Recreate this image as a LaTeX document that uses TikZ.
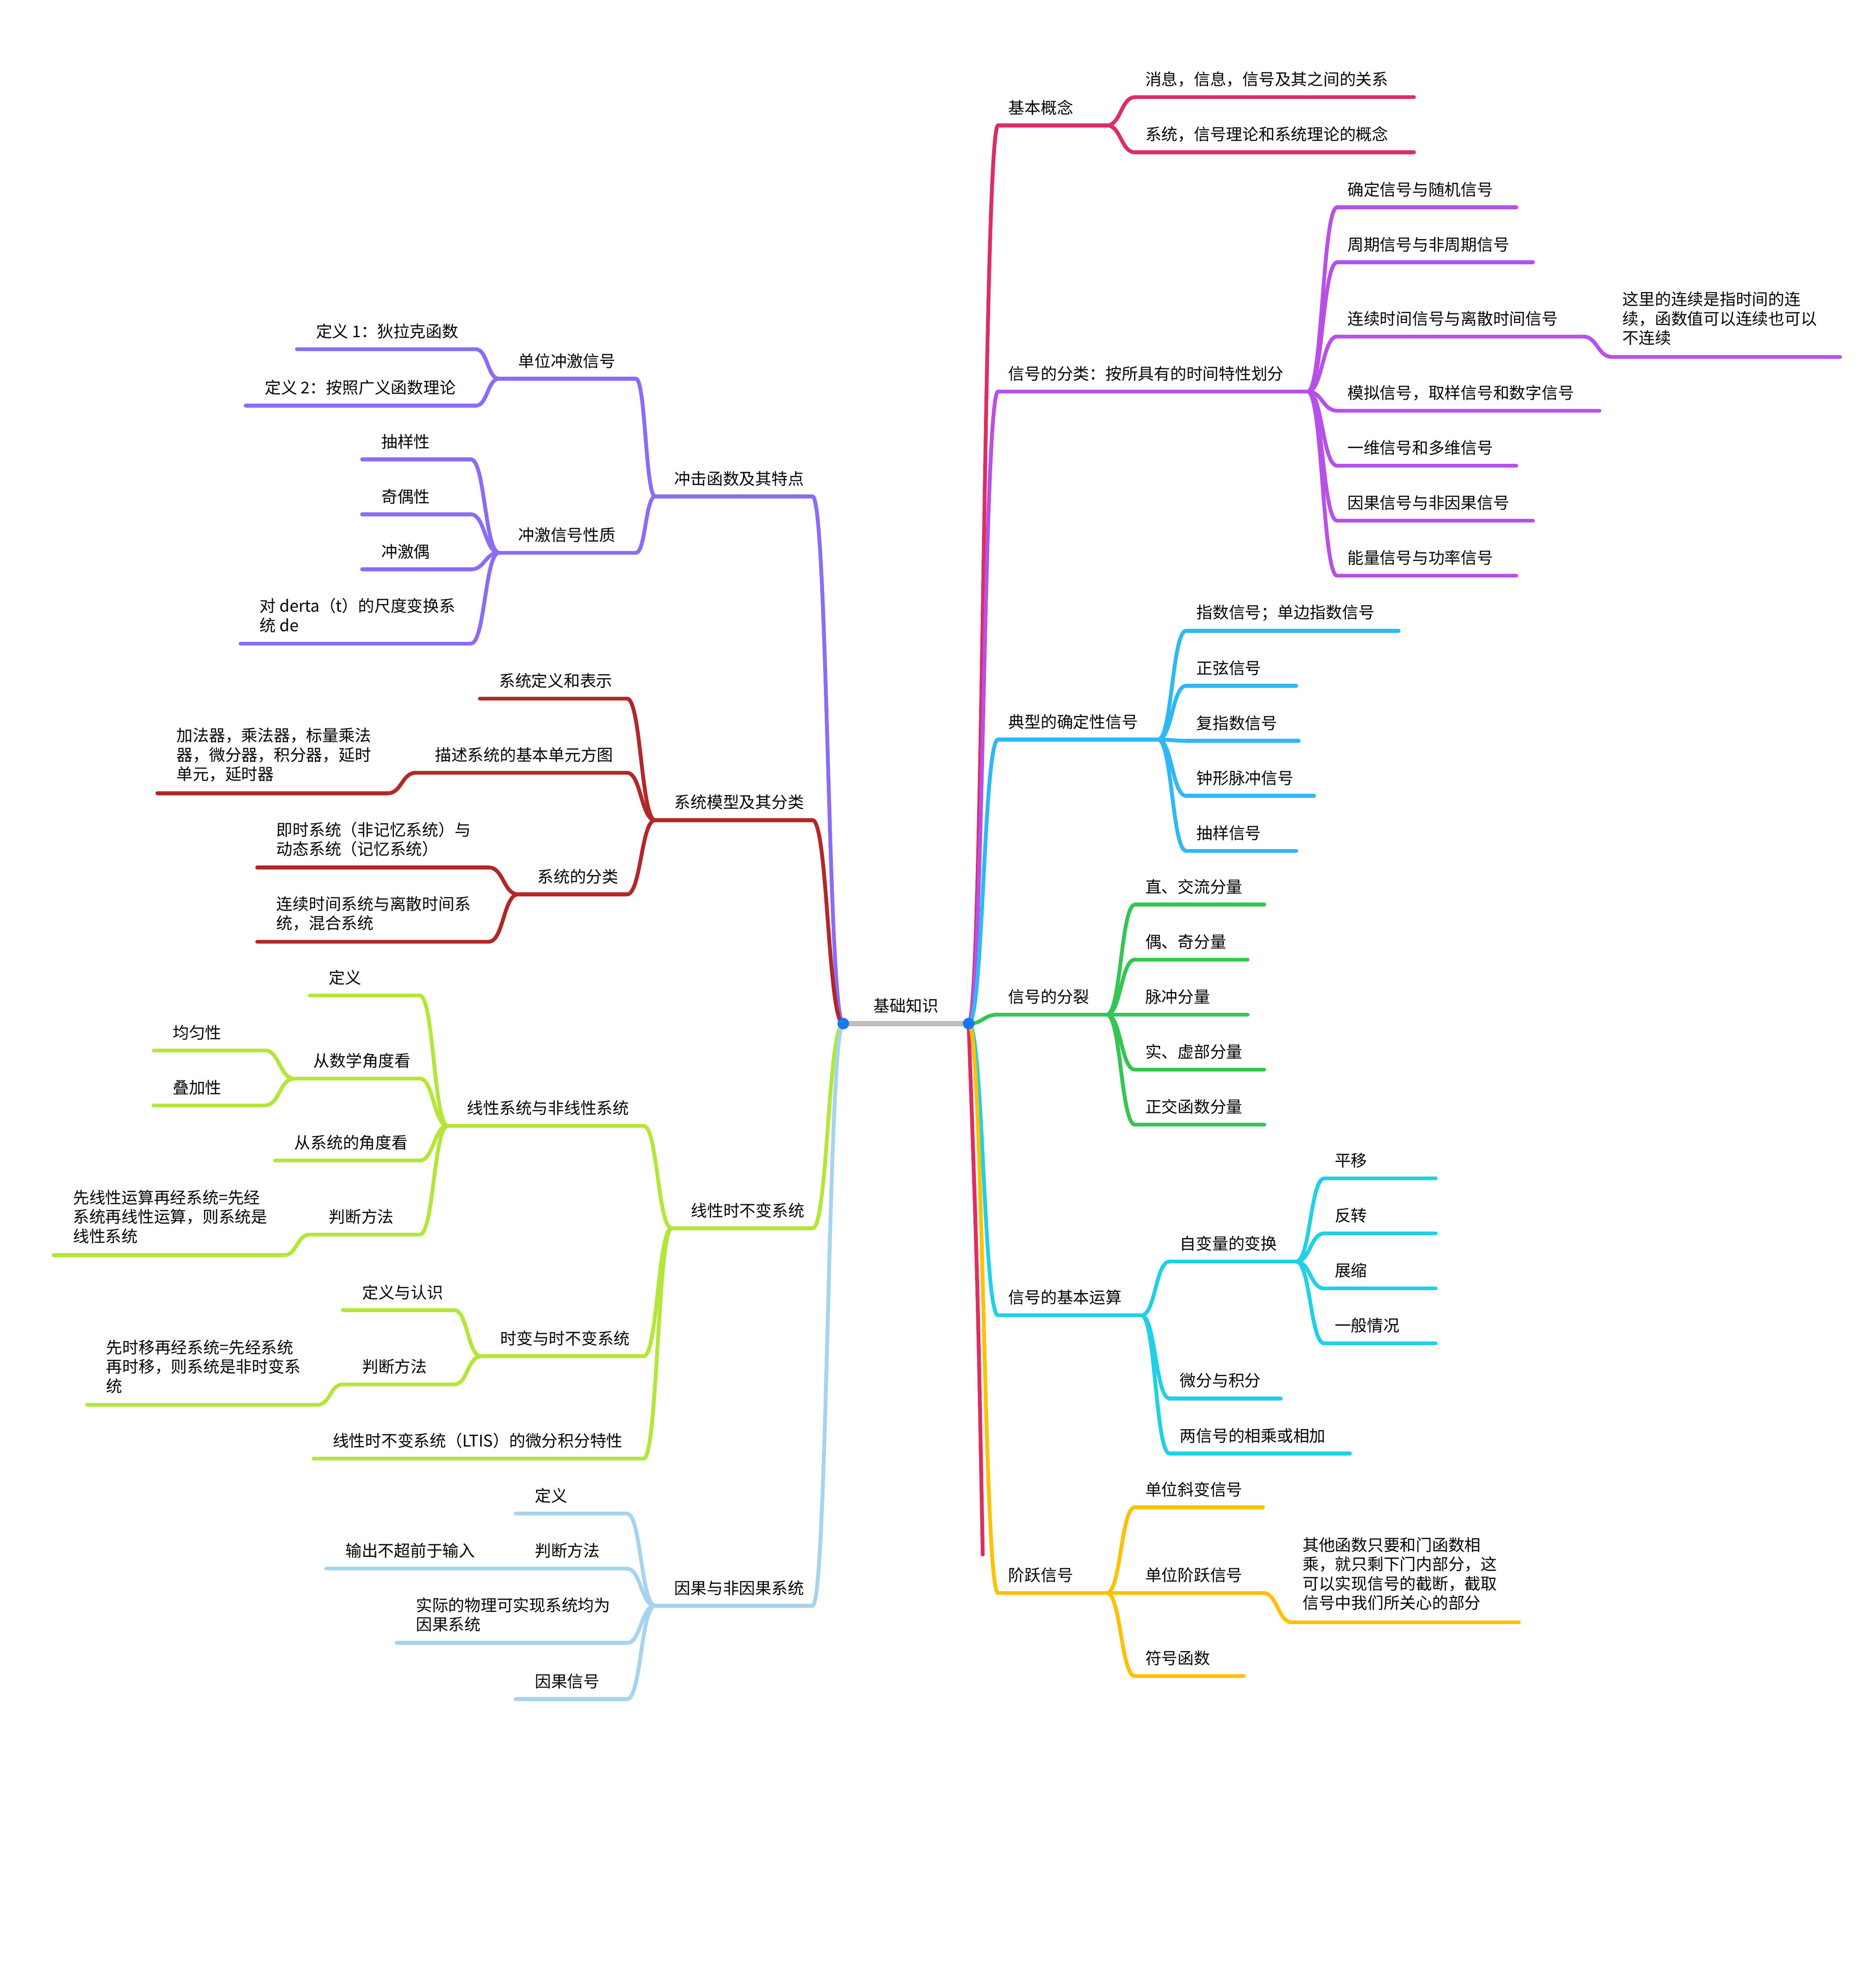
\documentclass[tikz,border=0pt]{standalone}
\usepackage{fontspec}
\setmainfont{Noto Sans CJK SC}
\usetikzlibrary{calc}
\definecolor{ccrim}{HTML}{DB2E62}
\definecolor{cpur}{HTML}{B850E8}
\definecolor{csky}{HTML}{2EB8F5}
\definecolor{cgrn}{HTML}{36C555}
\definecolor{ccyan}{HTML}{22D0E5}
\definecolor{camb}{HTML}{FFC107}
\definecolor{cvio}{HTML}{8A6CF5}
\definecolor{cred}{HTML}{B22828}
\definecolor{cyg}{HTML}{B4E63A}
\definecolor{clb}{HTML}{A6D3EE}
\definecolor{cgray}{HTML}{BDBDBD}
\definecolor{cdot}{HTML}{1877F2}
\tikzset{
  br/.style={line width=3mm, line cap=round},
  txt/.style={anchor=west, inner sep=0pt, align=left, font=\fontsize{36}{43}\selectfont}
}
\newcommand{\ndR}[7]{%
  \coordinate (#1-s) at (#3,#5); \coordinate (#1-e) at (#4,#5);
  \draw[br,#2] (#1-s) -- (#1-e);
  \node[txt] (#1) at (#3+8,#6) {#7};}
\newcommand{\ndL}[7]{%
  \coordinate (#1-s) at (#3,#5); \coordinate (#1-e) at (#4,#5);
  \draw[br,#2] (#1-s) -- (#1-e);
  \node[txt] (#1) at (#3+15,#6) {#7};}
\newcommand{\cn}[3]{%
  \draw[br,#1] (#2) .. controls ($(#2)!0.5!(#2-|#3)$) and ($(#3)!0.5!(#3-|#2)$) .. (#3);}
\begin{document}
\begin{tikzpicture}[x=1mm,y=-1mm]
\useasboundingbox (0,0) rectangle (1466,1553);
% root
\coordinate (root-s) at (659,800); \coordinate (root-e) at (757,800);
% right side
\ndR{R1}{ccrim}{780}{865}{98}{84}{基本概念}
\ndR{r11}{ccrim}{887}{1105}{76}{62}{消息，信息，信号及其之间的关系}
\ndR{r12}{ccrim}{887}{1105}{119}{105}{系统，信号理论和系统理论的概念}
\ndR{R2}{cpur}{780}{1022}{306}{292}{信号的分类：按所具有的时间特性划分}
\ndR{r21}{cpur}{1045}{1185}{162}{148}{确定信号与随机信号}
\ndR{r22}{cpur}{1045}{1198}{205}{191}{周期信号与非周期信号}
\ndR{r23}{cpur}{1045}{1237}{263}{249}{连续时间信号与离散时间信号}
\ndR{r231}{cpur}{1260}{1438}{279}{249}{这里的连续是指时间的连\\续，函数值可以连续也可以\\不连续}
\ndR{r24}{cpur}{1045}{1250}{321}{307}{模拟信号，取样信号和数字信号}
\ndR{r25}{cpur}{1045}{1185}{364}{350}{一维信号和多维信号}
\ndR{r26}{cpur}{1045}{1198}{407}{393}{因果信号与非因果信号}
\ndR{r27}{cpur}{1045}{1185}{450}{436}{能量信号与功率信号}
\ndR{R3}{csky}{780}{905}{578}{564}{典型的确定性信号}
\ndR{r31}{csky}{927}{1093}{493}{479}{指数信号；单边指数信号}
\ndR{r32}{csky}{927}{1013}{536}{522}{正弦信号}
\ndR{r33}{csky}{927}{1015}{579}{565}{复指数信号}
\ndR{r34}{csky}{927}{1027}{622}{608}{钟形脉冲信号}
\ndR{r35}{csky}{927}{1013}{665}{651}{抽样信号}
\ndR{R4}{cgrn}{780}{865}{793}{779}{信号的分裂}
\ndR{r41}{cgrn}{887}{988}{707}{693}{直、交流分量}
\ndR{r42}{cgrn}{887}{975}{750}{736}{偶、奇分量}
\ndR{r43}{cgrn}{887}{975}{793}{779}{脉冲分量}
\ndR{r44}{cgrn}{887}{988}{836}{822}{实、虚部分量}
\ndR{r45}{cgrn}{887}{988}{879}{865}{正交函数分量}
\ndR{R5}{ccyan}{780}{892}{1028}{1014}{信号的基本运算}
\ndR{r51}{ccyan}{914}{1013}{986}{972}{自变量的变换}
\ndR{r511}{ccyan}{1035}{1122}{921}{907}{平移}
\ndR{r512}{ccyan}{1035}{1122}{964}{950}{反转}
\ndR{r513}{ccyan}{1035}{1122}{1007}{993}{展缩}
\ndR{r514}{ccyan}{1035}{1122}{1050}{1036}{一般情况}
\ndR{r52}{ccyan}{914}{1001}{1093}{1079}{微分与积分}
\ndR{r53}{ccyan}{914}{1055}{1136}{1122}{两信号的相乘或相加}
\ndR{R6}{camb}{780}{865}{1245}{1231}{阶跃信号}
\ndR{r61}{camb}{887}{987}{1178}{1164}{单位斜变信号}
\ndR{r62}{camb}{887}{987}{1245}{1231}{单位阶跃信号}
\ndR{r621}{camb}{1010}{1187}{1268}{1230}{其他函数只要和门函数相\\乘，就只剩下门内部分，这\\可以实现信号的截断，截取\\信号中我们所关心的部分}
\ndR{r63}{camb}{887}{972}{1310}{1296}{符号函数}
% left side
\ndL{L1}{cvio}{512}{635}{388}{374}{冲击函数及其特点}
\ndL{l11}{cvio}{390}{497}{296}{282}{单位冲激信号}
\ndL{l111}{cvio}{232}{372}{273}{259}{定义 1：狄拉克函数}
\ndL{l112}{cvio}{192}{372}{317}{303}{定义 2：按照广义函数理论}
\ndL{l12}{cvio}{390}{497}{432}{418}{冲激信号性质}
\ndL{l121}{cvio}{283}{368}{359}{345}{抽样性}
\ndL{l122}{cvio}{283}{368}{402}{388}{奇偶性}
\ndL{l123}{cvio}{283}{368}{445}{431}{冲激偶}
\ndL{l124}{cvio}{188}{368}{503}{481}{对 derta（t）的尺度变换系\\统 de}
\ndL{L2}{cred}{512}{635}{641}{627}{系统模型及其分类}
\ndL{l21}{cred}{375}{490}{546}{532}{系统定义和表示}
\ndL{l22}{cred}{325}{490}{604}{590}{描述系统的基本单元方图}
\ndL{l221}{cred}{123}{303}{620}{590}{加法器，乘法器，标量乘法\\器，微分器，积分器，延时\\单元，延时器}
\ndL{l23}{cred}{405}{490}{699}{685}{系统的分类}
\ndL{l231}{cred}{201}{382}{678}{656}{即时系统（非记忆系统）与\\动态系统（记忆系统）}
\ndL{l232}{cred}{201}{382}{736}{714}{连续时间系统与离散时间系\\统，混合系统}
\ndL{L3}{cyg}{525}{635}{960}{946}{线性时不变系统}
\ndL{l31}{cyg}{350}{503}{880}{866}{线性系统与非线性系统}
\ndL{l311}{cyg}{242}{328}{778}{764}{定义}
\ndL{l312}{cyg}{230}{328}{843}{829}{从数学角度看}
\ndL{l3121}{cyg}{120}{207}{821}{807}{均匀性}
\ndL{l3122}{cyg}{120}{207}{864}{850}{叠加性}
\ndL{l313}{cyg}{215}{328}{907}{893}{从系统的角度看}
\ndL{l314}{cyg}{242}{328}{965}{951}{判断方法}
\ndL{l3141}{cyg}{42}{222}{981}{951}{先线性运算再经系统=先经\\系统再线性运算，则系统是\\线性系统}
\ndL{l32}{cyg}{376}{503}{1060}{1046}{时变与时不变系统}
\ndL{l321}{cyg}{268}{355}{1024}{1010}{定义与认识}
\ndL{l322}{cyg}{268}{355}{1082}{1068}{判断方法}
\ndL{l3221}{cyg}{68}{248}{1098}{1068}{先时移再经系统=先经系统\\再时移，则系统是非时变系\\统}
\ndL{l33}{cyg}{245}{503}{1140}{1126}{线性时不变系统（LTIS）的微分积分特性}
\ndL{L4}{clb}{512}{635}{1255}{1241}{因果与非因果系统}
\ndL{l41}{clb}{403}{490}{1183}{1169}{定义}
\ndL{l42}{clb}{403}{490}{1226}{1212}{判断方法}
\ndL{l421}{clb}{255}{403}{1226}{1212}{输出不超前于输入}
\ndL{l43}{clb}{310}{490}{1284}{1262}{实际的物理可实现系统均为\\因果系统}
\ndL{l44}{clb}{403}{490}{1328}{1314}{因果信号}
% connectors right
\draw[br,ccrim] (root-e) .. controls (764,1000) .. (768,1215);
\foreach \c/\col in {R1/ccrim,R2/cpur,R3/csky,R4/cgrn,R5/ccyan,R6/camb}{\cn{\col}{root-e}{\c-s}}
\foreach \c in {r11,r12}{\cn{ccrim}{R1-e}{\c-s}}
\foreach \c in {r21,r22,r23,r24,r25,r26,r27}{\cn{cpur}{R2-e}{\c-s}}
\cn{cpur}{r23-e}{r231-s}
\foreach \c in {r31,r32,r33,r34,r35}{\cn{csky}{R3-e}{\c-s}}
\foreach \c in {r41,r42,r43,r44,r45}{\cn{cgrn}{R4-e}{\c-s}}
\foreach \c in {r51,r52,r53}{\cn{ccyan}{R5-e}{\c-s}}
\foreach \c in {r511,r512,r513,r514}{\cn{ccyan}{r51-e}{\c-s}}
\foreach \c in {r61,r62,r63}{\cn{camb}{R6-e}{\c-s}}
\cn{camb}{r62-e}{r621-s}
% connectors left
\foreach \c/\col in {L1/cvio,L2/cred,L3/cyg,L4/clb}{\cn{\col}{root-s}{\c-e}}
\foreach \c in {l11,l12}{\cn{cvio}{L1-s}{\c-e}}
\foreach \c in {l111,l112}{\cn{cvio}{l11-s}{\c-e}}
\foreach \c in {l121,l122,l123,l124}{\cn{cvio}{l12-s}{\c-e}}
\foreach \c in {l21,l22,l23}{\cn{cred}{L2-s}{\c-e}}
\cn{cred}{l22-s}{l221-e}
\foreach \c in {l231,l232}{\cn{cred}{l23-s}{\c-e}}
\foreach \c in {l31,l32,l33}{\cn{cyg}{L3-s}{\c-e}}
\foreach \c in {l311,l312,l313,l314}{\cn{cyg}{l31-s}{\c-e}}
\foreach \c in {l3121,l3122}{\cn{cyg}{l312-s}{\c-e}}
\cn{cyg}{l314-s}{l3141-e}
\foreach \c in {l321,l322}{\cn{cyg}{l32-s}{\c-e}}
\cn{cyg}{l322-s}{l3221-e}
\foreach \c in {l41,l42,l43,l44}{\cn{clb}{L4-s}{\c-e}}
\draw[br,clb] (l42-s) -- (l421-e);
% root line and dots
\draw[line width=4mm,cgray] (root-s) -- (root-e);
\node[txt,anchor=center] (root) at (708,786) {基础知识};
\fill[cdot] (root-s) circle (4.5);
\fill[cdot] (root-e) circle (4.5);
\end{tikzpicture}
\end{document}
